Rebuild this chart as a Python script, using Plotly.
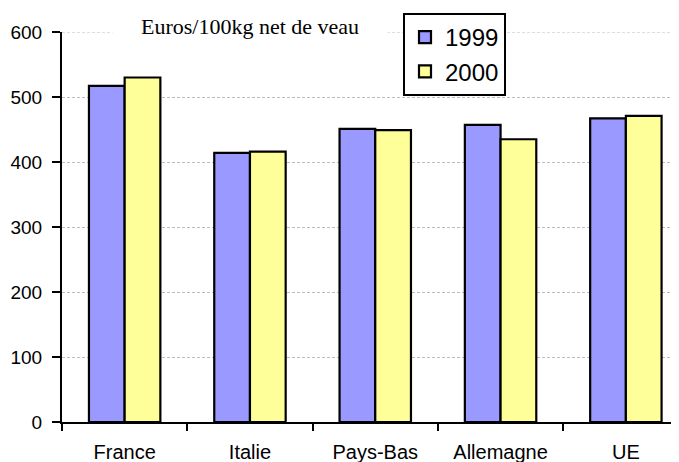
import plotly.graph_objects as go

categories = ["France", "Italie", "Pays-Bas", "Allemagne", "UE"]
values_1999 = [517, 414, 451, 457, 467]
values_2000 = [530, 416, 449, 435, 471]
series_names = ["1999", "2000"]
y_ticks = [0, 100, 200, 300, 400, 500, 600]

# The page body adds an 8px offset, so the figure is drawn 8px smaller.
W, H = 671, 454

fig = go.Figure()
fig.add_trace(go.Bar(x=categories, y=values_1999, name=series_names[0],
                     marker=dict(color="#9999FF", line=dict(color="black", width=2.2))))
fig.add_trace(go.Bar(x=categories, y=values_2000, name=series_names[1],
                     marker=dict(color="#FFFF99", line=dict(color="black", width=2.2))))

# top gridline (at the axis maximum) drawn explicitly
fig.add_hline(y=y_ticks[-1], line=dict(color="#bdbdbd", width=1, dash="3px,2px"),
              layer="below")

fig.update_layout(
    width=W, height=H,
    margin=dict(l=54, r=0, t=24, b=40, autoexpand=False),
    plot_bgcolor="white", paper_bgcolor="white",
    barmode="group", bargap=0.43, bargroupgap=0,
    font=dict(family="Liberation Sans, Arial, sans-serif", size=19, color="black"),
    showlegend=True,
    legend=dict(xref="container", yref="container", x=395 / W, y=1 - 5 / H,
                xanchor="left", yanchor="top",
                bordercolor="black", borderwidth=2, bgcolor="white",
                font=dict(size=24), tracegroupgap=0, itemwidth=30),
    xaxis=dict(range=[-0.5, 4.424], showline=True, linecolor="black", linewidth=2,
               ticks="outside", tickson="boundaries", ticklen=7, tickwidth=2,
               tickcolor="black", showgrid=False, fixedrange=True, automargin=False,
               tickfont=dict(size=20), ticklabelstandoff=11),
    yaxis=dict(range=[0, 600], tickvals=y_ticks, showline=True, linecolor="black",
               linewidth=2, ticks="outside", ticklen=8, tickwidth=2, tickcolor="black",
               showgrid=True, gridcolor="#bdbdbd", griddash="3px,2px", gridwidth=1,
               zeroline=False, fixedrange=True, automargin=False,
               ticklabelstandoff=6),
    annotations=[dict(text="Euros/100kg net de veau", xref="paper", yref="paper",
                      x=(250 - 62) / 617, y=(422 - 26) / 390, xanchor="center",
                      yanchor="middle", showarrow=False, width=272, align="center",
                      bgcolor="white",
                      font=dict(family="Liberation Serif, Times New Roman, serif", size=22))],
)

fig.write_html("out.html")
